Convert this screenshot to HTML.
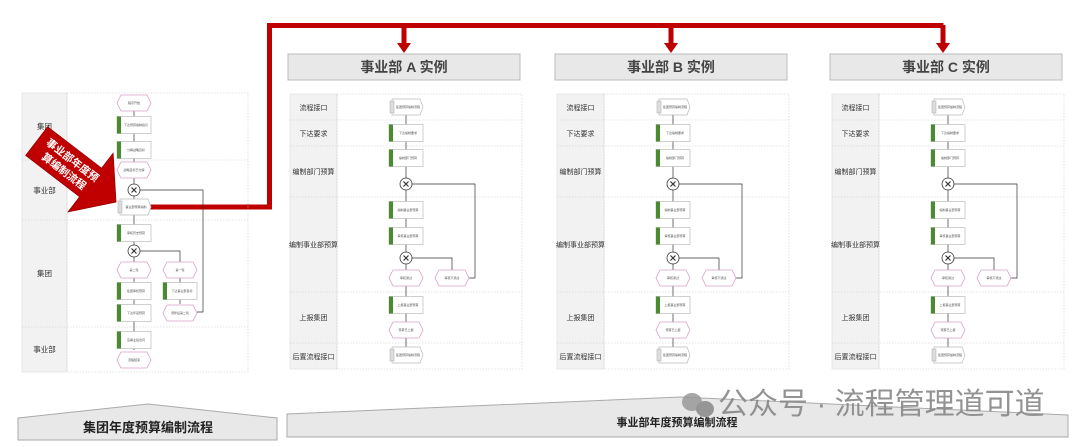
<!DOCTYPE html>
<html><head><meta charset="utf-8"><style>
html,body{margin:0;padding:0;background:#fff;}
svg{display:block;font-family:"Liberation Sans","Noto Sans CJK SC",sans-serif;}
</style></head><body>
<svg width="1080" height="447" viewBox="0 0 1080 447" xmlns="http://www.w3.org/2000/svg">
<defs>
<g id="task"><rect x="-17" y="-8.5" width="34" height="17" fill="#fff" stroke="#bbb" stroke-width="0.7"/><rect x="-17" y="-8.5" width="4" height="17" fill="#4a8a30"/></g>
<g id="iface"><path d="M-14,-8 H14 L17,0 L14,8 H-14z" fill="#fff" stroke="#bbb" stroke-width="0.7"/><rect x="-16" y="-6" width="4" height="12" fill="#ddd" stroke="#aaa" stroke-width="0.5"/></g>
<g id="evt"><path d="M-13,-8 H13 L17,0 L13,8 H-13 L-17,0z" fill="#fff" stroke="#d8a0c8" stroke-width="0.8"/></g>
<g id="gw"><circle r="6" fill="#fff" stroke="#333" stroke-width="0.8"/><path d="M-2.5,-2.5 L2.5,2.5 M2.5,-2.5 L-2.5,2.5" stroke="#333" stroke-width="1.2"/></g>
</defs>

<path d="M148,207 H269.5 V25.5 H943.5" fill="none" stroke="#c00000" stroke-width="5"/>
<path d="M404,25 V45" stroke="#c00000" stroke-width="5"/><path d="M397,43 H411 L404,53z" fill="#c00000"/>
<path d="M671,25 V45" stroke="#c00000" stroke-width="5"/><path d="M664,43 H678 L671,53z" fill="#c00000"/>
<path d="M943,25 V45" stroke="#c00000" stroke-width="5"/><path d="M936,43 H950 L943,53z" fill="#c00000"/>

<g>
<rect x="22" y="93" width="45" height="279" fill="#f2f2f2" stroke="#ddd" stroke-width="0.6"/>
<rect x="67" y="93" width="181" height="279" fill="none" stroke="#ccc" stroke-width="0.6" stroke-dasharray="1.5,1.5"/>
<g stroke="#ccc" stroke-width="0.6" stroke-dasharray="1.5,1.5"><path d="M22,160 H248 M22,220 H248 M22,327 H248"/></g>
<g font-size="7.5" fill="#333" text-anchor="middle"><text x="44.5" y="129">集团</text><text x="44.5" y="193">事业部</text><text x="44.5" y="276">集团</text><text x="44.5" y="352">事业部</text></g>
<g stroke="#333" stroke-width="0.7" fill="none">
<path d="M134,110 V350"/><path d="M140,251 H180 V262"/><path d="M180,278 V304"/><path d="M197,312 H203 V190 H140"/>
</g>
<use href="#evt" x="134" y="103"/><use href="#task" x="134" y="125"/><use href="#task" x="134" y="150"/>
<use href="#evt" x="134" y="170"/><use href="#gw" x="134" y="190"/><use href="#iface" x="134" y="207"/>
<use href="#task" x="134" y="233"/><use href="#gw" x="134" y="251"/>
<use href="#evt" x="134" y="270"/><use href="#evt" x="180" y="270"/>
<use href="#task" x="134" y="291"/><use href="#task" x="180" y="291"/>
<use href="#task" x="134" y="313"/><use href="#evt" x="180" y="313"/>
<use href="#task" x="134" y="340"/><use href="#evt" x="134" y="360"/>
<g font-size="3" fill="#555" text-anchor="middle">
<text x="134" y="104">程序开始</text><text x="136" y="126">下达预算编制指引</text><text x="136" y="151">分解战略目标</text>
<text x="134" y="171">战略目标已分解</text><text x="136" y="208">事业部预算编制</text><text x="136" y="234">审核历史预算</text>
<text x="134" y="271">第二轮</text><text x="180" y="271">第一轮</text><text x="136" y="292">集团审核预算</text><text x="182" y="292">下达事业部目标</text>
<text x="136" y="314">下达年度预算</text><text x="180" y="314">调整后第二轮</text><text x="136" y="341">签署业绩合同</text><text x="134" y="361">流程结束</text>
</g>
</g>

<g transform="translate(116,202) rotate(37.5)">
<path d="M-100,-18 H-32 V-37 L0,0 L-32,37 V18 H-100z" fill="#c00000" stroke="#900" stroke-width="0.8"/>
<g font-size="10.5" font-weight="bold" fill="#fff" text-anchor="middle"><text x="-60" y="-3">事业部年度预</text><text x="-60" y="11">算编制流程</text></g>
</g>

<g id="pA">
<rect x="288" y="54" width="232" height="26" fill="#e8e8e8" stroke="#bbb"/>
<rect x="290" y="94" width="47" height="275" fill="#f2f2f2" stroke="#ddd" stroke-width="0.6"/>
<rect x="337" y="94" width="185" height="275" fill="none" stroke="#ccc" stroke-width="0.6" stroke-dasharray="1.5,1.5"/>
<path d="M290,120 H522 M290,146 H522 M290,197 H522 M290,292 H522 M290,343 H522" stroke="#ccc" stroke-width="0.6" stroke-dasharray="1.5,1.5"/>
<g font-size="7" fill="#333" text-anchor="middle"><text x="313.5" y="110">流程接口</text><text x="313.5" y="136">下达要求</text><text x="313.5" y="174">编制部门预算</text><text x="313.5" y="247">编制事业部预算</text><text x="313.5" y="320">上报集团</text><text x="313.5" y="359">后置流程接口</text></g>
<g stroke="#333" stroke-width="0.7" fill="none"><path d="M406,115 V347"/><path d="M412,258 H452 V270"/><path d="M469,278 H475 V184 H412"/></g>
<use href="#iface" x="406" y="107"/><use href="#task" x="406" y="133"/><use href="#task" x="406" y="158"/><use href="#gw" x="406" y="184"/>
<use href="#task" x="406" y="210"/><use href="#task" x="406" y="236"/><use href="#gw" x="406" y="258"/>
<use href="#evt" x="406" y="278"/><use href="#evt" x="452" y="278"/><use href="#task" x="406" y="305"/><use href="#evt" x="406" y="330"/><use href="#iface" x="406" y="355"/>
<g font-size="3" fill="#555" text-anchor="middle"><text x="408" y="108">集团预算编制流程</text><text x="408" y="134">下达编制要求</text><text x="408" y="159">编制部门预算</text><text x="408" y="211">编制事业部预算</text><text x="408" y="237">审核事业部预算</text><text x="406" y="279">审核通过</text><text x="452" y="279">审核不通过</text><text x="408" y="306">上报事业部预算</text><text x="406" y="331">预算已上报</text><text x="408" y="356">集团预算编制流程</text></g>
</g>
<text x="404" y="72" font-size="14" font-weight="bold" fill="#444" text-anchor="middle">事业部 A 实例</text>
<use href="#pA" x="267"/>
<rect x="557" y="56" width="228" height="22" fill="#e8e8e8"/>
<text x="671" y="72" font-size="14" font-weight="bold" fill="#444" text-anchor="middle">事业部 B 实例</text>
<use href="#pA" x="542"/>
<rect x="832" y="56" width="228" height="22" fill="#e8e8e8"/>
<text x="946" y="72" font-size="14" font-weight="bold" fill="#444" text-anchor="middle">事业部 C 实例</text>

<path d="M18,418 L148,404 L277,418 V440 H18z" fill="#e8e8e8" stroke="#aaa"/>
<text x="148" y="432" font-size="13" font-weight="bold" fill="#222" text-anchor="middle">集团年度预算编制流程</text>
<path d="M287,414 L680,397 L1068,415 V437 H287z" fill="#e8e8e8" stroke="#aaa"/>
<text x="677" y="426" font-size="11" font-weight="bold" fill="#222" text-anchor="middle">事业部年度预算编制流程</text>
<g fill="#999" opacity="0.85"><ellipse cx="692" cy="402" rx="10" ry="9"/><ellipse cx="705" cy="409" rx="9" ry="8" fill="#888"/></g>
<text x="718" y="414" font-size="30" fill="#888" opacity="0.9">公众号 · 流程管理道可道</text>
</svg>
</body></html>
